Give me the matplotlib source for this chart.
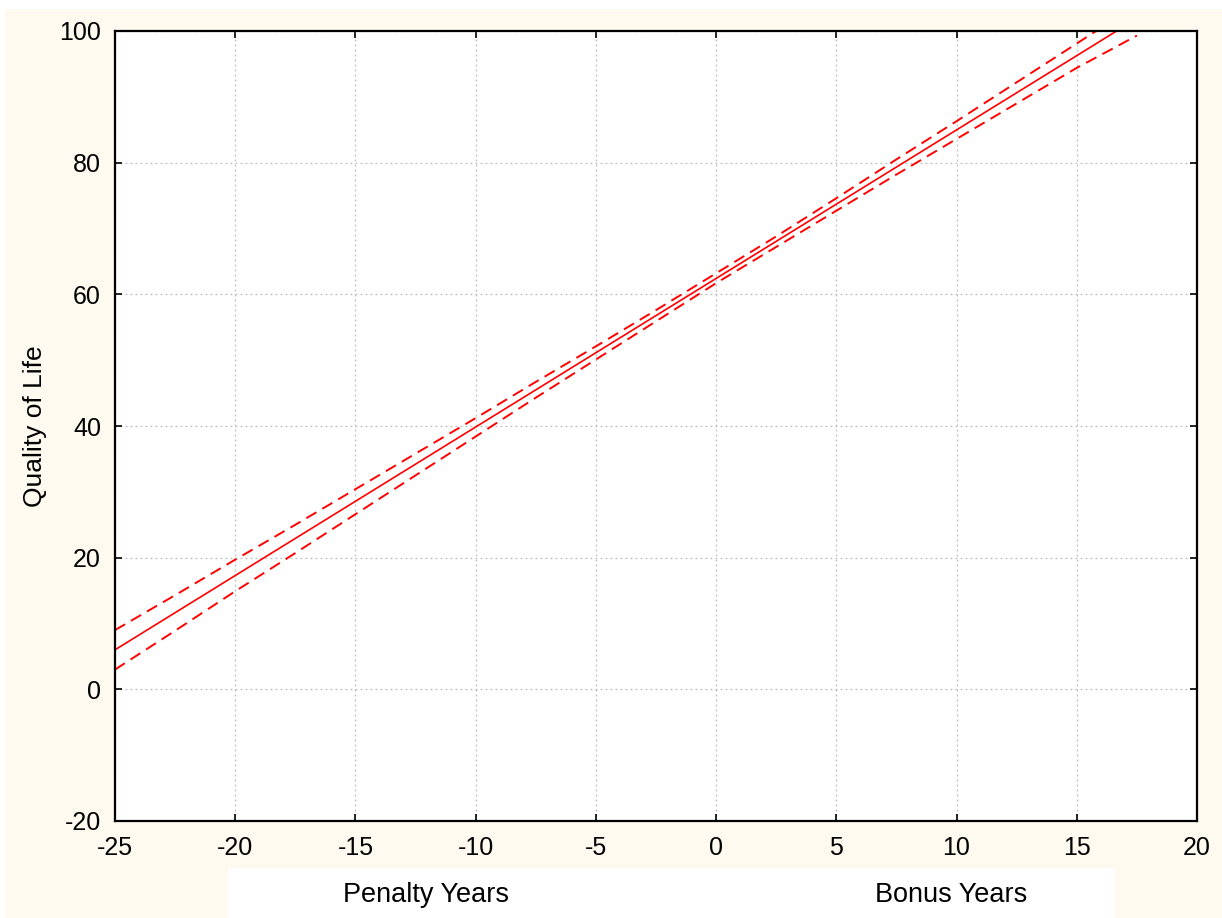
import matplotlib.pyplot as plt
from matplotlib.patches import Rectangle

# values
x_fit = [-25, 17.5]
y_fit = [6.0, 101.9]

x_band = [-25, -22.5, -20, -17.5, -15, -12.5, -10, -7.5, -5, -2.5,
          0, 2.5, 5, 7.5, 10, 12.5, 15, 17.5]
upper = [9.0, 14.3, 19.7, 25.0, 30.4, 35.8, 41.2, 46.7, 52.1, 57.6,
         63.2, 68.8, 74.6, 80.5, 86.3, 92.2, 98.1, 104.0]
lower = [3.0, 8.9, 14.9, 20.7, 26.6, 32.5, 38.4, 44.3, 50.1, 55.9,
         61.7, 67.2, 72.7, 78.2, 83.6, 89.0, 94.4, 99.3]

x_ticks = [-25, -20, -15, -10, -5, 0, 5, 10, 15, 20]
y_ticks = [-20, 0, 20, 40, 60, 80, 100]

W, H = 1222, 918
CREAM = "#FFFAF0"
RED = "#FF0000"

plt.rcParams["font.family"] = ["Liberation Sans", "DejaVu Sans"]
plt.rcParams["axes.unicode_minus"] = False

fig = plt.figure(figsize=(W / 100, H / 100), dpi=100, facecolor="white")

# cream panel behind everything
fig.patches.append(Rectangle((5 / W, 0), 1 - 5 / W, 1 - 9 / H,
                             transform=fig.transFigure, facecolor=CREAM,
                             edgecolor="none", zorder=-10))
# white strip holding the two captions
fig.patches.append(Rectangle((228 / W, 0), (1115 - 228) / W, 50 / H,
                             transform=fig.transFigure, facecolor="white",
                             edgecolor="none", zorder=-9))

ax = fig.add_axes([115 / W, 1 - 821 / H, (1197 - 115) / W, (821 - 31) / H])
ax.set_facecolor("white")

ax.plot(x_fit, y_fit, color=RED, lw=1.2, solid_capstyle="butt")
ax.plot(x_band, upper, color=RED, lw=1.4, dashes=(6, 3.5))
ax.plot(x_band, lower, color=RED, lw=1.4, dashes=(6, 3.5))

ax.set_xlim(-25, 20)
ax.set_ylim(-20, 100)
ax.set_xticks(x_ticks)
ax.set_yticks(y_ticks)
ax.grid(True, color="#BDBDBD", linestyle=(0, (1.5, 2.5)), lw=0.9)
ax.set_axisbelow(True)

ax.tick_params(direction="in", top=True, right=True, length=5, width=1.2,
               labelsize=18, colors="black")
ax.tick_params(axis="x", pad=11)
ax.tick_params(axis="y", pad=10)
for s in ax.spines.values():
    s.set_linewidth(1.6)

ax.set_ylabel("Quality of Life", fontsize=19, labelpad=9)

fig.text(426 / W, 1 - 895 / H, "Penalty Years", fontsize=19.5,
         ha="center", va="center")
fig.text(951 / W, 1 - 895 / H, "Bonus Years", fontsize=19.5,
         ha="center", va="center")

fig.savefig("out.png", dpi=100, facecolor="white")
